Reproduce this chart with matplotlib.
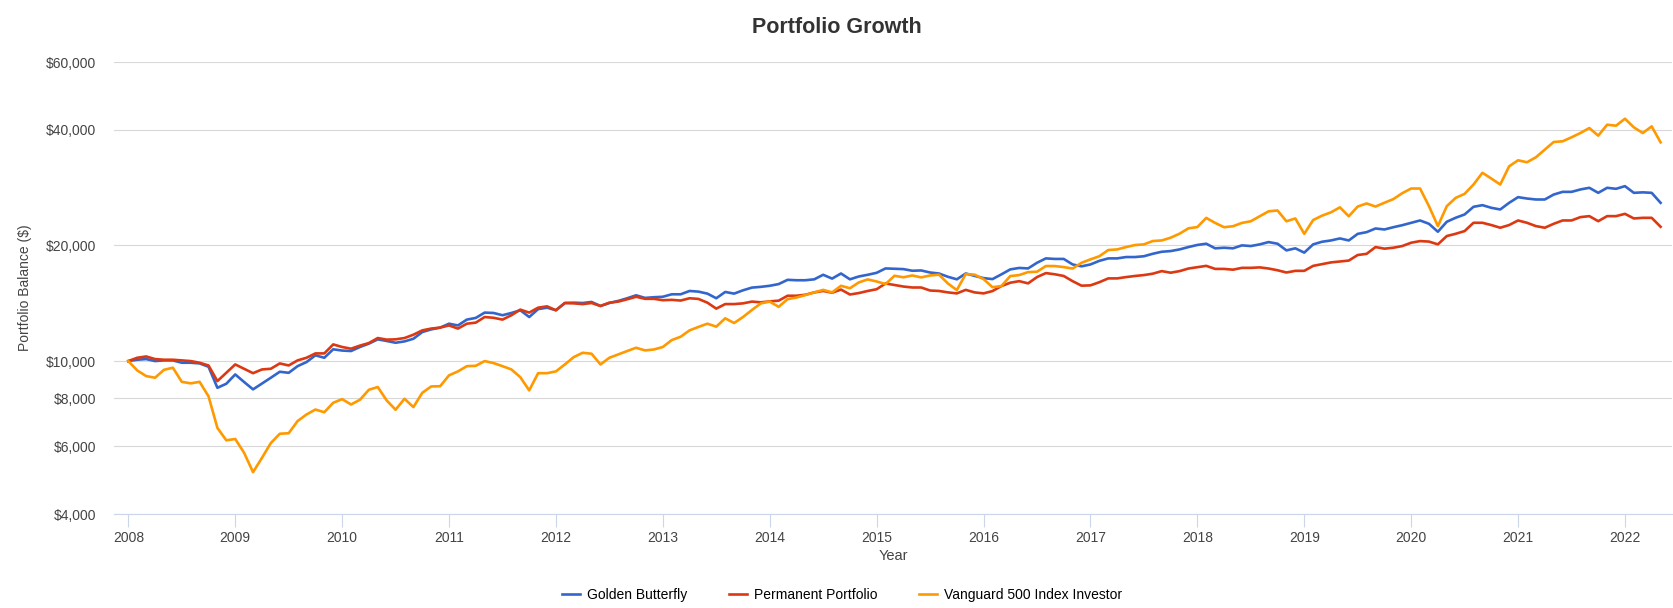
import matplotlib.pyplot as plt
import matplotlib.ticker as mticker
import numpy as np

plt.rcParams['font.family'] = ['Liberation Sans', 'DejaVu Sans']

# monthly balances, Jan 2008 .. May 2022
golden_butterfly = [
    10000, 10080, 10120, 10000, 10040, 10040, 9900, 9900, 9860, 9666, 8520, 8730, 9230, 8820, 8440, 8740, 9050, 9380, 9320, 9700, 9940, 10350, 10200, 10730, 10650,
    10620, 10880, 11100, 11390, 11280, 11160, 11250, 11430, 11900, 12090, 12220, 12510, 12380, 12820, 12950, 13370, 13340, 13160, 13340, 13560, 13020, 13650, 13770, 13560,
    14160, 14190, 14160, 14250, 13910, 14160, 14340, 14570, 14830, 14600, 14660, 14700, 14920, 14920, 15220, 15160, 14980, 14570, 15130, 14980, 15280, 15530, 15600, 15700,
    15860, 16270, 16230, 16230, 16320, 16770, 16390, 16900, 16320, 16600, 16770, 16970, 17420, 17380, 17350, 17180, 17210, 17000, 16900, 16570, 16320, 16900, 16660, 16440,
    16340, 16810, 17320, 17470, 17420, 18020, 18500, 18440, 18440, 17840, 17640, 17840, 18230, 18500, 18500, 18650, 18650, 18740, 19020, 19250, 19330, 19520, 19800, 20050,
    20200, 19650, 19720, 19650, 20000, 19920, 20120, 20400, 20200, 19410, 19650, 19150, 20120, 20440, 20600, 20850, 20600, 21430, 21650, 22130, 22000, 22300, 22570,
    22900, 23220, 22760, 21700, 23040, 23600, 24070, 25200, 25450, 25050, 24800, 25810, 26700, 26480, 26330, 26330, 27120, 27560, 27560, 27960, 28240, 27400, 28240, 28070, 28520, 27400, 27480, 27400, 25810,
]
permanent_portfolio = [
    10000, 10200, 10280, 10120, 10080, 10080, 10040, 10000, 9900, 9740, 8870, 9320, 9800, 9550, 9300, 9510, 9550, 9860, 9740, 10040, 10200, 10470, 10470, 11050, 10880,
    10770, 10970, 11140, 11480, 11370, 11390, 11480, 11710, 12020, 12150, 12220, 12380, 12150, 12510, 12590, 13020, 12960, 12820, 13160, 13610, 13370, 13770, 13880, 13560,
    14160, 14130, 14070, 14160, 13910, 14190, 14280, 14480, 14700, 14520, 14520, 14400, 14430, 14370, 14570, 14510, 14190, 13690, 14070, 14070, 14130, 14280, 14220, 14300,
    14360, 14790, 14790, 14880, 15090, 15220, 15060, 15350, 14900, 15030, 15220, 15380, 15920, 15770, 15630, 15540, 15540, 15260, 15220, 15090, 15000, 15320, 15090, 15000,
    15210, 15670, 15990, 16140, 15930, 16540, 16940, 16820, 16650, 16140, 15710, 15740, 16040, 16410, 16410, 16540, 16650, 16740, 16880, 17140, 16980, 17140, 17410, 17550,
    17690, 17370, 17370, 17290, 17480, 17480, 17530, 17410, 17230, 17000, 17170, 17170, 17690, 17880, 18060, 18160, 18260, 18880, 19010, 19800, 19610, 19720, 19920,
    20320, 20520, 20460, 20120, 21150, 21440, 21790, 22900, 22900, 22590, 22230, 22590, 23220, 22900, 22450, 22230, 22760, 23220, 23220, 23690, 23830, 23120, 23830, 23830, 24160, 23500, 23590, 23590, 22360,
]
vanguard_500 = [
    10000, 9455, 9140, 9050, 9490, 9610, 8830, 8750, 8830, 8100, 6700, 6220, 6270, 5770, 5140, 5600, 6120, 6470, 6490, 6980, 7260, 7480, 7360, 7790, 7960,
    7710, 7930, 8420, 8560, 7900, 7470, 7980, 7590, 8270, 8590, 8600, 9180, 9400, 9700, 9720, 10000, 9880, 9700, 9510, 9080, 8390, 9300, 9300, 9400,
    9800, 10240, 10510, 10450, 9800, 10200, 10410, 10620, 10830, 10660, 10720, 10880, 11340, 11570, 12020, 12270, 12510, 12290, 12920, 12560, 13020, 13580, 14130, 14280,
    13840, 14490, 14630, 14850, 15090, 15320, 15090, 15700, 15470, 16020, 16310, 16110, 15860, 16670, 16520, 16700, 16510, 16700, 16780, 15920, 15300, 16840, 16780, 16340,
    15570, 15670, 16640, 16740, 17040, 17080, 17670, 17670, 17560, 17410, 18020, 18390, 18740, 19450, 19520, 19800, 20040, 20120, 20530, 20600, 20940, 21450, 22150, 22320,
    23580, 22880, 22300, 22430, 22880, 23110, 23810, 24530, 24650, 23110, 23500, 21430, 23280, 23900, 24380, 25120, 23810, 25240, 25710, 25240, 25820, 26390, 27340,
    28120, 28120, 25300, 22450, 25300, 26590, 27230, 28800, 30900, 29850, 28800, 32120, 33300, 32910, 33900, 35490, 37160, 37310, 38210, 39210, 40400, 38590, 41210, 40970, 42720, 40560, 39210, 40800, 37080,
]
series_names = ['Golden Butterfly', 'Permanent Portfolio', 'Vanguard 500 Index Investor']
series_colors = ['#3366cc', '#dc3912', '#ff9900']
y_ticks = [4000, 6000, 8000, 10000, 20000, 40000, 60000]
x_ticks = list(range(2008, 2023))

years = 2008 + np.arange(len(golden_butterfly)) / 12

fig = plt.figure(figsize=(16.74, 6.08), dpi=100)
ax = fig.add_axes([0.0681, 0.1546, 0.9307, 0.7434])

for vals, name, col in zip([golden_butterfly, permanent_portfolio, vanguard_500], series_names, series_colors):
    ax.plot(years, vals, color=col, lw=1.9, label=name, solid_joinstyle='round')

ax.set_yscale('log')
ax.set_ylim(4000, 60000)
ax.set_xlim(2007.866, 2022.44)
ax.yaxis.set_major_locator(mticker.FixedLocator(y_ticks))
ax.yaxis.set_minor_locator(mticker.NullLocator())
ax.yaxis.set_major_formatter(mticker.FuncFormatter(lambda v, p: '${:,.0f}'.format(v)))
ax.set_xticks(x_ticks)
ax.set_xticklabels([str(y) for y in x_ticks])

ax.grid(axis='y', color='#d8d8d8', lw=0.8)
ax.set_axisbelow(True)
for s in ['left', 'right', 'top']:
    ax.spines[s].set_visible(False)
ax.spines['bottom'].set_color('#ccd6eb')
ax.tick_params(axis='y', length=0, labelsize=10, labelcolor='#444444', pad=13)
ax.tick_params(axis='x', length=9, color='#ccd6eb', labelsize=10, labelcolor='#444444', pad=3)

ax.set_xlabel('Year', fontsize=10.5, color='#444444', labelpad=3)
ax.set_ylabel('Portfolio Balance ($)', fontsize=10, color='#444444', labelpad=10)
fig.text(0.5, 0.955, 'Portfolio Growth', ha='center', va='center', fontsize=15.5, fontweight='bold', color='#333333')

fig.legend(loc='center', bbox_to_anchor=(0.503, 0.022), ncol=3, frameon=False, fontsize=10,
           handlelength=1.3, columnspacing=3.0, handletextpad=0.5)

fig.savefig('out.png', dpi=100)
